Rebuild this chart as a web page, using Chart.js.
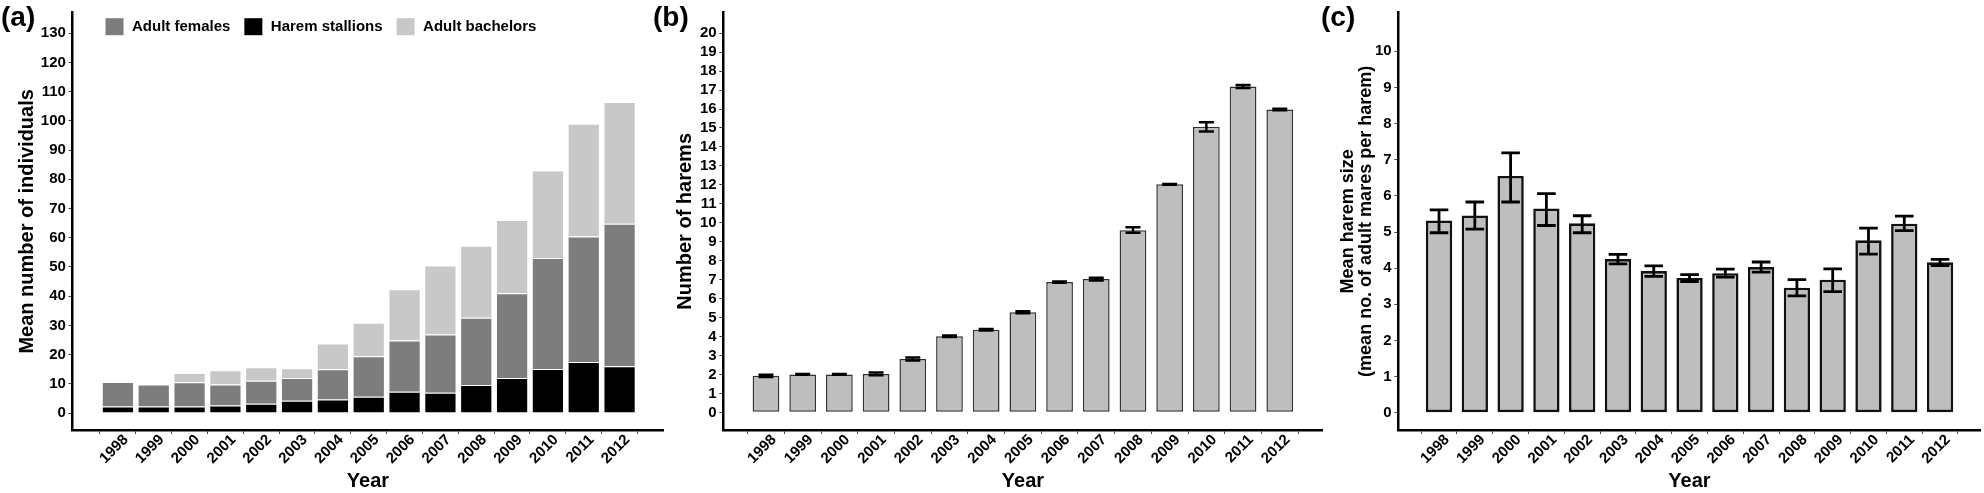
<!DOCTYPE html>
<html><head><meta charset="utf-8">
<script src="https://cdn.jsdelivr.net/npm/chart.js@4.4.1/dist/chart.umd.min.js"></script>
<style>
html,body{margin:0;padding:0;background:#fff;width:1984px;height:493px;overflow:hidden;}
.panel{position:absolute;top:0;height:493px;}
.panel canvas{display:block;}
.tag{position:absolute;top:3px;font:bold 28px 'Liberation Sans',Arial,sans-serif;line-height:28px;color:#000;}
</style></head><body>
<div class="panel" style="left:0;width:666px"><canvas id="ca" width="666" height="493"></canvas></div>
<div class="panel" style="left:666px;width:658px"><canvas id="cb" width="658" height="493"></canvas></div>
<div class="panel" style="left:1323px;width:661px"><canvas id="cc" width="661" height="493"></canvas></div>
<div class="tag" style="left:1px">(a)</div>
<div class="tag" style="left:653px">(b)</div>
<div class="tag" style="left:1321px">(c)</div>
<script>
// ---------- data ----------
const years = ['1998','1999','2000','2001','2002','2003','2004','2005','2006','2007','2008','2009','2010','2011','2012'];
// (a) mean number of individuals (stacked)
const stallions = [2.2, 2.2, 2.2, 2.6, 3.2, 4.2, 4.6, 5.6, 7.3, 6.9, 9.6, 12.0, 15.1, 17.5, 16.0];
const females   = [8.4, 7.6, 8.3, 7.2, 7.8, 7.8, 10.4, 13.8, 17.5, 20.0, 23.0, 29.0, 38.0, 42.9, 48.8];
const bachelors = [0, 0, 3.2, 4.8, 4.7, 3.3, 8.8, 11.5, 17.6, 23.6, 24.7, 25.1, 29.9, 38.6, 41.7];
// (b) number of harems with error bars
const harems     = [1.93, 2.00, 2.00, 2.03, 2.82, 4.01, 4.36, 5.28, 6.87, 7.03, 9.60, 12.03, 15.06, 17.19, 15.97];
const haremsLow  = [1.87, 1.98, 1.98, 1.96, 2.74, 3.97, 4.32, 5.23, 6.84, 6.96, 9.47, 12.01, 14.82, 17.11, 15.93];
const haremsHigh = [1.99, 2.02, 2.02, 2.10, 2.90, 4.05, 4.40, 5.33, 6.90, 7.10, 9.77, 12.05, 15.30, 17.27, 16.01];
// (c) mean harem size with error bars
const haremSize     = [5.32, 5.46, 6.55, 5.65, 5.24, 4.25, 3.92, 3.73, 3.86, 4.03, 3.46, 3.68, 4.77, 5.23, 4.16];
const haremSizeLow  = [4.98, 5.08, 5.83, 5.18, 4.98, 4.12, 3.77, 3.63, 3.75, 3.89, 3.23, 3.35, 4.39, 5.04, 4.07];
const haremSizeHigh = [5.61, 5.83, 7.19, 6.06, 5.45, 4.38, 4.06, 3.82, 3.97, 4.17, 3.68, 3.98, 5.11, 5.44, 4.24];
// tick labels
const ticksA = [0,10,20,30,40,50,60,70,80,90,100,110,120,130];
const ticksB = [0,1,2,3,4,5,6,7,8,9,10,11,12,13,14,15,16,17,18,19,20];
const ticksC = [0,1,2,3,4,5,6,7,8,9,10];

// ---------- styling helpers ----------
const FONT = "'Liberation Sans', Arial, Helvetica, sans-serif";
Chart.defaults.font.family = FONT;
Chart.defaults.font.weight = 'bold';
Chart.defaults.color = '#000';

const gridOpts = {display:true, drawOnChartArea:false, drawTicks:true, tickLength:4, color:'#444', lineWidth:1};
const borderOpts = {display:true, color:'#000', width:2.5};

function xAxis(min, max) {
  return {
    type:'linear', min:min, max:max, bounds:'data', offset:false,
    afterBuildTicks: ax => { ax.ticks = years.map((y, i) => ({value:i})); },
    afterFit: ax => { ax.height = 63; },
    ticks:{autoSkip:false, maxRotation:45, minRotation:45, padding:-3, labelOffset:8,
      font:{size:15, weight:'bold'}, color:'#000', callback: v => years[v]},
    grid: gridOpts, border: borderOpts,
    title:{display:true, text:'Year', color:'#000', font:{size:20, weight:'bold'}, padding:{top:0, bottom:0}}
  };
}
function yAxis(min, max, tickVals, width, titleText, titleFont, titlePad) {
  return {
    type:'linear', min:min, max:max,
    afterBuildTicks: ax => { ax.ticks = tickVals.map(v => ({value:v})); },
    afterFit: ax => { ax.width = width; },
    ticks:{autoSkip:false, padding:2.6, font:{size:15, weight:'bold'}, color:'#000'},
    grid: gridOpts, border: borderOpts,
    title:{display:true, text:titleText, color:'#000', font:titleFont, padding:{top:titlePad, bottom:0}}
  };
}
function errorBars(low, high, lw, cap) {
  return {
    id:'errorBars',
    afterDatasetsDraw(chart) {
      const ctx = chart.ctx, ys = chart.scales.y;
      const meta = chart.getDatasetMeta(0);
      ctx.save();
      ctx.strokeStyle = '#000'; ctx.lineWidth = lw; ctx.lineCap = 'butt';
      meta.data.forEach((bar, i) => {
        const x = bar.x, yl = ys.getPixelForValue(low[i]), yh = ys.getPixelForValue(high[i]);
        ctx.beginPath();
        ctx.moveTo(x, yl); ctx.lineTo(x, yh);
        ctx.moveTo(x - cap, yl); ctx.lineTo(x + cap, yl);
        ctx.moveTo(x - cap, yh); ctx.lineTo(x + cap, yh);
        ctx.stroke();
      });
      ctx.restore();
    }
  };
}
const innerLegend = {
  id:'innerLegend',
  afterDraw(chart) {
    const ctx = chart.ctx, ca = chart.chartArea;
    const order = [1, 0, 2];
    let x = ca.left + 33;
    const yMid = ca.top + 14;
    ctx.save();
    ctx.font = 'bold 15px ' + FONT;
    ctx.textBaseline = 'middle'; ctx.textAlign = 'left';
    order.forEach(di => {
      const ds = chart.data.datasets[di];
      ctx.fillStyle = ds.backgroundColor;
      ctx.fillRect(x, yMid - 8.5, 18, 17);
      x += 18 + 8.5;
      ctx.fillStyle = '#000';
      ctx.fillText(ds.label, x, yMid);
      x += ctx.measureText(ds.label).width + 14;
    });
    ctx.restore();
  }
};
const common = {responsive:false, animation:false, devicePixelRatio:1,
  events:[]};

// ---------- panel (a) ----------
const pts = arr => arr.map((v, i) => ({x:i, y:v}));
new Chart(document.getElementById('ca'), {
  type:'bar',
  data:{datasets:[
    {label:'Harem stallions', data:pts(stallions), backgroundColor:'#000000', borderColor:'rgba(255,255,255,0.85)', borderWidth:1, borderSkipped:'start', barPercentage:0.9, categoryPercentage:1},
    {label:'Adult females', data:pts(females), backgroundColor:'#7d7d7d', borderColor:'rgba(255,255,255,0.85)', borderWidth:1, borderSkipped:'start', barPercentage:0.9, categoryPercentage:1},
    {label:'Adult bachelors', data:pts(bachelors), backgroundColor:'#c8c8c8', borderColor:'rgba(255,255,255,0.85)', borderWidth:1, borderSkipped:'start', barPercentage:0.9, categoryPercentage:1}
  ]},
  options:Object.assign({}, common, {
    layout:{padding:{top:12.7, right:2.7, left:0, bottom:0}},
    plugins:{legend:{display:false}, tooltip:{enabled:false}},
    scales:{
      x:Object.assign(xAxis(-1.267, 15.22), {stacked:true}),
      y:Object.assign(yAxis(-5.82, 137.05, ticksA, 72.5, 'Mean number of individuals', {size:20, weight:'bold', lineHeight:1.2}, 15.5), {stacked:true})
    }
  }),
  plugins:[innerLegend]
});

// ---------- panel (b) ----------
new Chart(document.getElementById('cb'), {
  type:'bar',
  data:{datasets:[
    {label:'Number of harems', data:pts(harems), backgroundColor:'#bebebe', borderColor:'#333333', borderWidth:1.5, borderSkipped:false, barPercentage:0.728, categoryPercentage:1}
  ]},
  options:Object.assign({}, common, {
    layout:{padding:{top:12.7, right:1.3, left:0, bottom:0}},
    plugins:{legend:{display:false}, tooltip:{enabled:false}},
    scales:{
      x:xAxis(-1.163, 15.17),
      y:yAxis(-0.93, 21.08, ticksB, 57.3, 'Number of harems', {size:20, weight:'bold', lineHeight:1.2}, 7)
    }
  }),
  plugins:[errorBars(haremsLow, haremsHigh, 2.5, 7.5)]
});

// ---------- panel (c) ----------
new Chart(document.getElementById('cc'), {
  type:'bar',
  data:{datasets:[
    {label:'Mean harem size', data:pts(haremSize), backgroundColor:'#bebebe', borderColor:'#111111', borderWidth:2.6, borderSkipped:false, barPercentage:0.735, categoryPercentage:1}
  ]},
  options:Object.assign({}, common, {
    layout:{padding:{top:12.7, right:3.5, left:0, bottom:0}},
    plugins:{legend:{display:false}, tooltip:{enabled:false}},
    scales:{
      x:xAxis(-1.138, 15.13),
      y:yAxis(-0.48, 11.07, ticksC, 75.3, ['Mean harem size', '(mean no. of adult mares per harem)'], {size:18, weight:'bold', lineHeight:1.0}, 16)
    }
  }),
  plugins:[errorBars(haremSizeLow, haremSizeHigh, 2.8, 9.3)]
});
</script>
</body></html>
